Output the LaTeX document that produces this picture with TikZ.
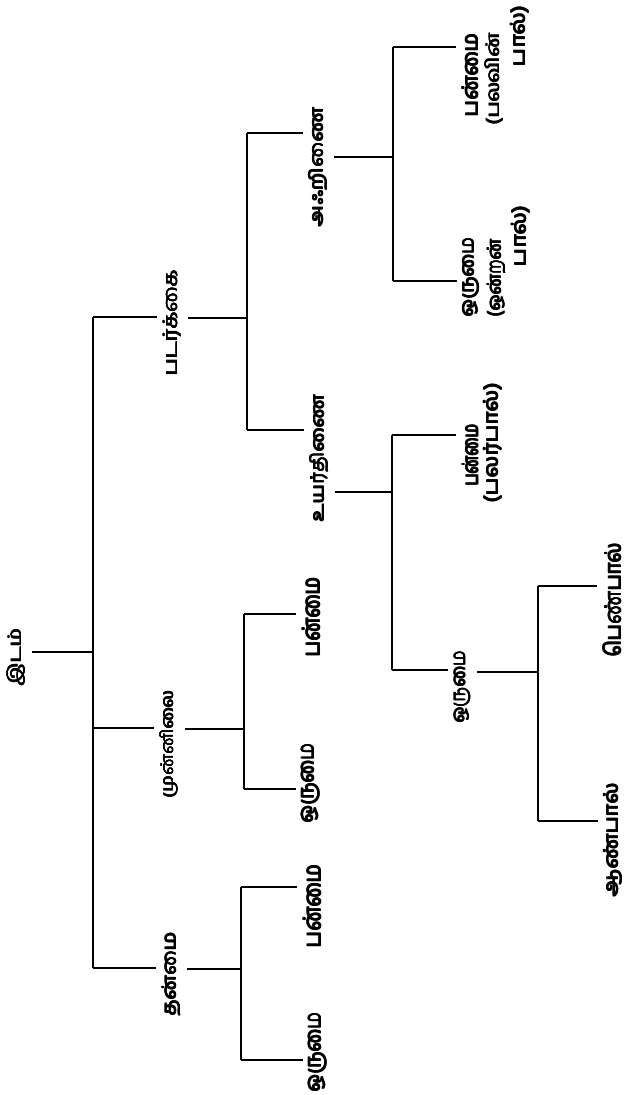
\documentclass[tikz,border=0pt]{standalone}
\usepackage{fontspec}
\newfontfamily\tamil[Script=Tamil]{Hind Madurai}
\newcommand{\heavy}[1]{\rlap{#1}\rlap{\kern0.4pt#1}\rlap{\raisebox{0.4pt}{#1}}\kern0.4pt\raisebox{0.4pt}{#1}}
\newcommand{\tamw}[3][19]{\resizebox*{#2pt}{#1pt}{\tamil\heavy{#3}}}
\tikzset{
  lbl/.style={rotate=90, inner sep=0pt, outer sep=6pt},
  ln/.style={line width=1.1pt, black, line cap=butt}
}
\begin{document}
\begin{tikzpicture}[x=1pt,y=-1pt]
\useasboundingbox (0,0) rectangle (630,1095);
\fill[white] (0,0) rectangle (630,1095);
% labels
\node[lbl] (idam) at (16,657) {\tamw{58}{இடம்}};
\node[lbl] (pad) at (172,323) {\tamw{107}{படர்க்கை}};
\node[lbl] (mun) at (169,744) {\tamw{108}{முன்னிலை}};
\node[lbl] (tan) at (171,974) {\tamw{85}{தன்மை}};
\node[lbl] (munB) at (311,617) {\tamw{80}{பன்மை}};
\node[lbl] (munA) at (311,783) {\tamw{80}{ஒருமை}};
\node[lbl] (tanB) at (312,906) {\tamw{84}{பன்மை}};
\node[lbl] (tanA) at (318,1052) {\tamw{80}{ஒருமை}};
\node[lbl] (akr) at (318,167) {\tamw{120}{அஃறிணை}};
\node[lbl] (uyr) at (319,458) {\tamw{128}{உயர்திணை}};
\node[lbl] (uyrA) at (462,687) {\tamw[17]{73}{ஒருமை}};
\node[lbl] (pen) at (612,600) {\tamw{115}{பெண்பால்}};
\node[lbl] (aan) at (613,840) {\tamw{114}{ஆண்பால்}};
\node[lbl] (akpA) at (470,75) {\tamw[17]{84}{பன்மை}};
\node[lbl] (akpB) at (494,79) {\tamw[19]{92}{(பலவின்}};
\node[lbl] (akpC) at (520,36) {\tamw[19]{62}{பால்)}};
\node[lbl] (akoA) at (471,277) {\tamw[17]{80}{ஒருமை}};
\node[lbl] (akoB) at (496,278) {\tamw[19]{78}{(ஒன்றன்}};
\node[lbl] (akoC) at (521,236) {\tamw[19]{62}{பால்)}};
\node[lbl] (uypA) at (470,455) {\tamw[17]{62}{பன்மை}};
\node[lbl] (uypB) at (493,443) {\tamw[19]{120}{(பலர்பால்)}};
% junction coordinates
\coordinate (j0) at (93,652);  \coordinate (v0t) at (93,317);  \coordinate (v0b) at (93,968);
\coordinate (m0) at (93,728);
\coordinate (j1) at (247,318); \coordinate (v1t) at (247,133); \coordinate (v1b) at (247,430);
\coordinate (j2) at (244,729); \coordinate (v2t) at (244,614); \coordinate (v2b) at (244,789);
\coordinate (j3) at (241,969); \coordinate (v3t) at (241,887); \coordinate (v3b) at (241,1060);
\coordinate (j4) at (393,157); \coordinate (v4t) at (393,47);  \coordinate (v4b) at (393,281);
\coordinate (j5) at (392,492); \coordinate (v5t) at (392,435); \coordinate (v5b) at (392,670);
\coordinate (j6) at (538,672); \coordinate (v6t) at (538,586); \coordinate (v6b) at (538,821);
% root
\draw[ln] (idam.south |- j0) -- (j0);
\draw[ln] (v0t) -- (v0b);
\draw[ln] (v0t) -- (pad.north |- v0t);
\draw[ln] (m0) -- (mun.north |- m0);
\draw[ln] (v0b) -- (tan.north |- v0b);
% padarkkai
\draw[ln] (pad.south |- j1) -- (j1);
\draw[ln] (v1t) -- (v1b);
\draw[ln] (v1t) -- (akr.north |- v1t);
\draw[ln] (v1b) -- (uyr.north |- v1b);
% munnilai
\draw[ln] (mun.south |- j2) -- (j2);
\draw[ln] (v2t) -- (v2b);
\draw[ln] (v2t) -- (munB.north |- v2t);
\draw[ln] (v2b) -- (munA.north |- v2b);
% tanmai
\draw[ln] (tan.south |- j3) -- (j3);
\draw[ln] (v3t) -- (v3b);
\draw[ln] (v3t) -- (tanB.north |- v3t);
\draw[ln] (v3b) -- (tanA.north |- v3b);
% akrinai
\draw[ln] (akr.south |- j4) -- (j4);
\draw[ln] (v4t) -- (v4b);
\draw[ln] (v4t) -- (akpA.north |- v4t);
\draw[ln] (v4b) -- (akoA.north |- v4b);
% uyartinai
\draw[ln] (uyr.south |- j5) -- (j5);
\draw[ln] (v5t) -- (v5b);
\draw[ln] (v5t) -- (uypA.north |- v5t);
\draw[ln] (v5b) -- (uyrA.north |- v5b);
% orumai (uyartinai)
\draw[ln] (uyrA.south |- j6) -- (j6);
\draw[ln] (v6t) -- (v6b);
\draw[ln] (v6t) -- (pen.north |- v6t);
\draw[ln] (v6b) -- (aan.north |- v6b);
\end{tikzpicture}
\end{document}
